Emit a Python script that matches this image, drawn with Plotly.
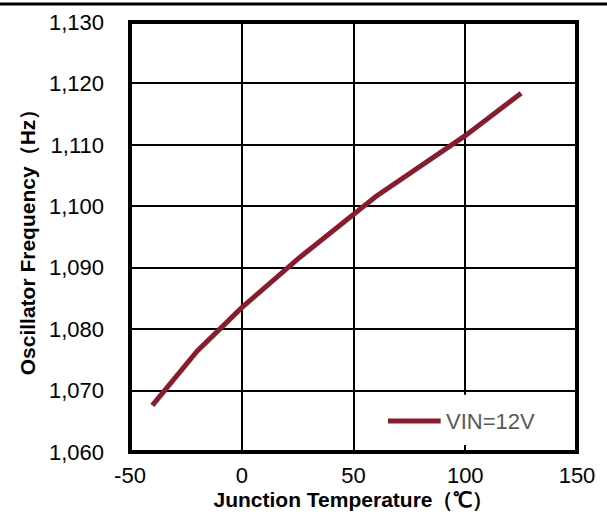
import plotly.graph_objects as go

# Oscillator frequency vs junction temperature
temperature = [-40, -20, 0, 25, 60, 100, 125]
frequency = [1067.6, 1076.4, 1083.5, 1091.4, 1101.6, 1111.5, 1118.4]
series_name = "VIN=12V"

x_ticks = [-50, 0, 50, 100, 150]
x_labels = ["-50", "0", "50", "100", "150"]
y_ticks = [1060, 1070, 1080, 1090, 1100, 1110, 1120, 1130]
y_labels = [f"{v:,}" for v in y_ticks]

LINE_RED = "#8B1B2C"
LEGEND_GRAY = "#595959"
FONT = "Liberation Sans, Arial, sans-serif"

fig = go.Figure()

fig.add_trace(
    go.Scatter(
        x=temperature,
        y=frequency,
        mode="lines",
        name=series_name,
        line=dict(color=LINE_RED, width=5),
        showlegend=False,
    )
)

fig.update_layout(
    width=607,
    height=514,
    margin=dict(l=130, r=30, t=22, b=62),
    paper_bgcolor="white",
    plot_bgcolor="white",
    font=dict(family=FONT, color="black", size=22),
    xaxis=dict(
        range=[-50, 150],
        tickvals=x_ticks,
        ticktext=x_labels,
        showgrid=True,
        gridcolor="black",
        gridwidth=1.5,
        zeroline=False,
        showline=False,
        ticks="",
        automargin=False,
        ticklabelstandoff=8,
        title=dict(
            text="<b>Junction Temperature（℃）</b>",
            font=dict(size=21),
            standoff=3,
        ),
    ),
    yaxis=dict(
        range=[1060, 1130],
        tickvals=y_ticks,
        ticktext=y_labels,
        showgrid=True,
        gridcolor="black",
        gridwidth=1.5,
        zeroline=False,
        showline=False,
        ticks="",
        automargin=False,
        ticklabelstandoff=25,
        title=dict(
            text="<b>Oscillator Frequency（Hz）</b>",
            font=dict(size=21),
            standoff=7,
        ),
    ),
    shapes=[
        # legend box (white, hides gridline)
        dict(
            type="rect",
            xref="paper",
            yref="paper",
            x0=0.56,
            x1=0.975,
            y0=0.016,
            y1=0.133,
            fillcolor="white",
            line=dict(width=0),
            layer="above",
        ),
        dict(
            type="line",
            xref="paper",
            yref="paper",
            x0=0.577,
            x1=0.695,
            y0=0.072,
            y1=0.072,
            line=dict(color=LINE_RED, width=5),
            layer="above",
        ),
        # plot frame
        dict(
            type="rect",
            xref="paper",
            yref="paper",
            x0=0,
            y0=0,
            x1=1,
            y1=1,
            line=dict(color="black", width=4),
            layer="above",
        ),
        # rule across the top of the page
        dict(
            type="line",
            xref="paper",
            yref="paper",
            x0=-0.3,
            x1=1.07,
            y0=1.042,
            y1=1.042,
            line=dict(color="black", width=3),
        ),
    ],
    annotations=[
        dict(
            text=series_name,
            xref="paper",
            yref="paper",
            x=0.703,
            y=0.072,
            xanchor="left",
            yanchor="middle",
            showarrow=False,
            font=dict(size=22, color=LEGEND_GRAY),
        )
    ],
)

fig.write_html(
    "out.html",
    config={"displayModeBar": False},
    post_script="document.body.style.margin='0';",
)
